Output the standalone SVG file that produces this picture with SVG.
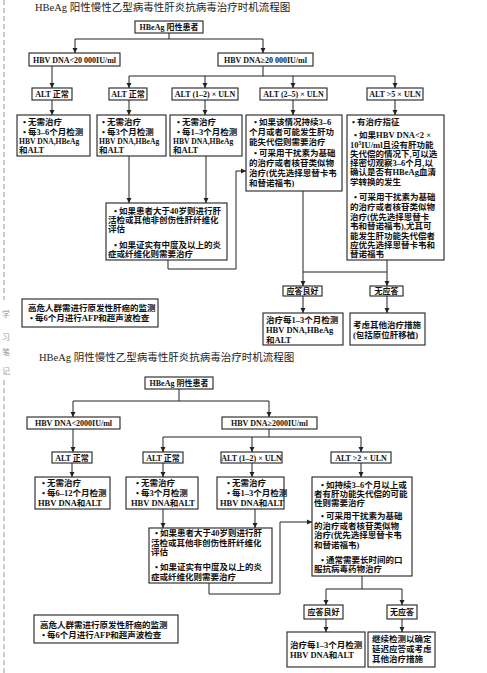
<svg xmlns="http://www.w3.org/2000/svg" width="487" height="673" viewBox="0 0 487 673">
<defs>
<marker id="ah" markerWidth="6" markerHeight="6" refX="5" refY="3" orient="auto" markerUnits="userSpaceOnUse">
<path d="M0,0.5 L5,3 L0,5.5 Z" fill="#222"/>
</marker>
<style>
.bg{fill:#fff}
.box{fill:#fff;stroke:#222;stroke-width:1.1}
.t{font-family:"Liberation Serif","Noto Sans CJK SC",serif;font-size:8.5px;font-weight:bold;fill:#111}
.s{font-size:7.6px}
.l{font-family:"Liberation Serif","Noto Sans CJK SC",serif;font-size:8px;font-weight:bold;fill:#111;text-anchor:middle}
.title{font-family:"Liberation Serif","Noto Sans CJK SC",serif;font-size:10.5px;fill:#222}
.c{fill:none;stroke:#222;stroke-width:1}
.a{marker-end:url(#ah)}
.m{font-family:"Noto Sans CJK SC",sans-serif;font-size:8px;fill:#999;text-anchor:middle}
.dash{stroke:#999;stroke-width:1;stroke-dasharray:5 3}
</style>
</defs>
<rect class="bg" x="0" y="0" width="487" height="673"/>

<g id="margin">
<line class="dash" x1="4" y1="0" x2="4" y2="300"/>
<line class="dash" x1="4" y1="380" x2="4" y2="673"/>
<text class="m" x="6" y="317">学</text>
<text class="m" x="6" y="340">习</text>
<text class="m" x="6" y="355">笔</text>
<text class="m" x="6" y="374">记</text>
</g>

<text class="title" x="35" y="11">HBeAg 阳性慢性乙型病毒性肝炎抗病毒治疗时机流程图</text>
<text class="title" x="39" y="361">HBeAg 阴性慢性乙型病毒性肝炎抗病毒治疗时机流程图</text>

<g id="connectors">
<path class="c" d="M169,33 V39 M75,39 H263"/>
<path class="c a" d="M75,39 V53"/>
<path class="c a" d="M263,39 V53"/>
<path class="c a" d="M52,66 V88"/>
<path class="c" d="M263,66 V76 M129,76 H395"/>
<path class="c a" d="M129,76 V88"/>
<path class="c a" d="M205,76 V88"/>
<path class="c a" d="M293,76 V88"/>
<path class="c a" d="M395,76 V88"/>
<path class="c a" d="M52,100 V115"/>
<path class="c a" d="M129,100 V115"/>
<path class="c a" d="M205,100 V115"/>
<path class="c a" d="M293,100 V115"/>
<path class="c a" d="M395,100 V115"/>
<path class="c a" d="M129,156 V203"/>
<path class="c a" d="M206,156 V203"/>
<path class="c a" d="M168,260 V269 H236 V171 H246"/>
<path class="c" d="M303,191 V272 M387,260 V272 M303,272 H387"/>
<path class="c a" d="M303,272 V286"/>
<path class="c a" d="M387,272 V286"/>
<path class="c a" d="M303,296 V313"/>
<path class="c a" d="M387,296 V313"/>

<path class="c" d="M179,389 V401 M73,401 H269"/>
<path class="c a" d="M73,401 V417"/>
<path class="c a" d="M269,401 V417"/>
<path class="c a" d="M73,429 V452"/>
<path class="c" d="M269,429 V437 M163,437 H361"/>
<path class="c a" d="M163,437 V452"/>
<path class="c a" d="M252,437 V452"/>
<path class="c a" d="M361,437 V452"/>
<path class="c a" d="M72,463 V477"/>
<path class="c a" d="M163,463 V477"/>
<path class="c a" d="M252,463 V477"/>
<path class="c a" d="M361,463 V477"/>
<path class="c a" d="M163,509 V528"/>
<path class="c a" d="M255,509 V528"/>
<path class="c a" d="M209,583 V594 H280 V522 H312"/>
<path class="c" d="M362,576 V589 M326,589 H402"/>
<path class="c a" d="M326,589 V605"/>
<path class="c a" d="M402,589 V605"/>
<path class="c a" d="M326,619 V632"/>
<path class="c a" d="M402,619 V632"/>
</g>

<!-- Top section -->
<g id="p_root"><rect class="box" x="135" y="21" width="68" height="12"/><text class="l" x="169" y="30">HBeAg 阳性患者</text></g>
<g id="p_dna_lo"><rect class="box" x="29" y="53" width="91" height="13"/><text class="l" x="74.5" y="62.5">HBV DNA&lt;20 000IU/ml</text></g>
<g id="p_dna_hi"><rect class="box" x="218" y="53" width="95" height="13"/><text class="l" x="265.5" y="62.5">HBV DNA≥20 000IU/ml</text></g>
<g id="p_alt1"><rect class="box" x="32" y="88" width="40" height="12"/><text class="l" x="52" y="97">ALT 正常</text></g>
<g id="p_alt2"><rect class="box" x="109" y="88" width="38" height="12"/><text class="l" x="128" y="97">ALT 正常</text></g>
<g id="p_alt3"><rect class="box" x="172" y="88" width="66" height="12"/><text class="l" x="205" y="97">ALT (1–2) × ULN</text></g>
<g id="p_alt4"><rect class="box" x="260" y="88" width="67" height="12"/><text class="l" x="293.5" y="97">ALT (2–5) × ULN</text></g>
<g id="p_alt5"><rect class="box" x="367" y="88" width="56" height="12"/><text class="l" x="395" y="97">ALT &gt;5 × ULN</text></g>

<g id="p_c1"><rect class="box" x="17" y="115" width="73" height="41"/>
<text class="t"><tspan x="23" y="125">• 无需治疗</tspan><tspan x="23" y="134.5">• 每3–6个月检测</tspan><tspan class="s" x="19" y="144">HBV DNA,HBeAg</tspan><tspan x="19" y="153">和ALT</tspan></text></g>
<g id="p_c2"><rect class="box" x="97" y="115" width="69" height="41"/>
<text class="t"><tspan x="102" y="125">• 无需治疗</tspan><tspan x="102" y="134.5">• 每3个月检测</tspan><tspan class="s" x="99" y="144">HBV DNA,HBeAg</tspan><tspan x="99" y="153">和ALT</tspan></text></g>
<g id="p_c3"><rect class="box" x="170" y="115" width="72" height="41"/>
<text class="t"><tspan x="177" y="125">• 无需治疗</tspan><tspan x="177" y="134.5">• 每1–3个月检测</tspan><tspan class="s" x="173" y="144">HBV DNA,HBeAg</tspan><tspan x="173" y="153">和ALT</tspan></text></g>
<g id="p_c4"><rect class="box" x="246" y="115" width="96" height="76"/>
<text class="t"><tspan x="254" y="125">• 如果该情况持续3–6</tspan><tspan x="249" y="135">个月或者可能发生肝功</tspan><tspan x="249" y="145">能失代偿则需要治疗</tspan><tspan x="254" y="156">• 可采用干扰素为基础</tspan><tspan x="249" y="166">的治疗或者核苷类似物</tspan><tspan x="249" y="176">治疗(优先选择恩替卡韦</tspan><tspan x="249" y="186">和替诺福韦)</tspan></text></g>
<g id="p_c5"><rect class="box" x="347" y="115" width="97" height="145"/>
<text class="t"><tspan x="352" y="125">• 有治疗指征</tspan><tspan x="354" y="138">• 如果HBV DNA&lt;2 ×</tspan><tspan x="350" y="148">10<tspan font-size="5.5" dy="-3.5">5</tspan><tspan dy="3.5">IU/ml且没有肝功能</tspan></tspan><tspan x="350" y="157">失代偿的情况下,可以选</tspan><tspan x="350" y="166">择密切观察3–6个月,以</tspan><tspan x="350" y="175">确认是否有HBeAg血清</tspan><tspan x="350" y="185">学转换的发生</tspan><tspan x="354" y="200">• 可采用干扰素为基础</tspan><tspan x="350" y="210">的治疗或者核苷类似物</tspan><tspan x="350" y="220">治疗(优先选择恩替卡</tspan><tspan x="350" y="229">韦和替诺福韦),尤其可</tspan><tspan x="350" y="239">能发生肝功能失代偿者</tspan><tspan x="350" y="248">应优先选择恩替卡韦和</tspan><tspan x="350" y="257">替诺福韦</tspan></text></g>
<g id="p_mid"><rect class="box" x="106" y="203" width="121" height="57"/>
<text class="t"><tspan x="114" y="214">• 如果患者大于40岁则进行肝</tspan><tspan x="108" y="223">活检或其他非创伤性肝纤维化</tspan><tspan x="108" y="232">评估</tspan><tspan x="114" y="248">• 如果证实有中度及以上的炎</tspan><tspan x="108" y="257">症或纤维化则需要治疗</tspan></text></g>
<g id="p_resp_good"><rect class="box" x="283" y="286" width="39" height="10"/><text class="l" x="302.5" y="294">应答良好</text></g>
<g id="p_resp_none"><rect class="box" x="370" y="286" width="33" height="10"/><text class="l" x="386.5" y="294">无应答</text></g>
<g id="p_treat"><rect class="box" x="263" y="313" width="80" height="32"/>
<text class="t"><tspan x="266" y="323">治疗每1–3个月检测</tspan><tspan x="266" y="333">HBV DNA,HBeAg</tspan><tspan x="266" y="343">和ALT</tspan></text></g>
<g id="p_other"><rect class="box" x="350" y="313" width="75" height="32"/>
<text class="t"><tspan x="353" y="328">考虑其他治疗措施</tspan><tspan x="353" y="338">(包括原位肝移植)</tspan></text></g>
<g id="p_hcc"><rect class="box" x="22" y="299" width="136" height="28"/>
<text class="t"><tspan x="28" y="311">高危人群需进行原发性肝癌的监测</tspan><tspan x="30" y="321">• 每6个月进行AFP和超声波检查</tspan></text></g>

<!-- Bottom section -->
<g id="n_root"><rect class="box" x="145" y="377" width="68" height="12"/><text class="l" x="179" y="386">HBeAg 阴性患者</text></g>
<g id="n_dna_lo"><rect class="box" x="27" y="417" width="93" height="12"/><text class="l" x="73.5" y="426">HBV DNA&lt;2000IU/ml</text></g>
<g id="n_dna_hi"><rect class="box" x="222" y="417" width="95" height="12"/><text class="l" x="269.5" y="426">HBV DNA≥2000IU/ml</text></g>
<g id="n_alt1"><rect class="box" x="52" y="452" width="40" height="11"/><text class="l" x="72" y="460.5">ALT 正常</text></g>
<g id="n_alt2"><rect class="box" x="143" y="452" width="40" height="11"/><text class="l" x="163" y="460.5">ALT 正常</text></g>
<g id="n_alt3"><rect class="box" x="221" y="452" width="61" height="11"/><text class="l" x="251.5" y="460.5">ALT (1–2) × ULN</text></g>
<g id="n_alt4"><rect class="box" x="331" y="452" width="60" height="11"/><text class="l" x="361" y="460.5">ALT &gt;2 × ULN</text></g>
<g id="n_c1"><rect class="box" x="35" y="477" width="75" height="32"/>
<text class="t"><tspan x="42" y="486">• 无需治疗</tspan><tspan x="42" y="496">• 每6–12个月检测</tspan><tspan x="38" y="506">HBV DNA和ALT</tspan></text></g>
<g id="n_c2"><rect class="box" x="126" y="477" width="72" height="32"/>
<text class="t"><tspan x="136" y="486">• 无需治疗</tspan><tspan x="136" y="496">• 每3个月检测</tspan><tspan x="131" y="506">HBV DNA和ALT</tspan></text></g>
<g id="n_c3"><rect class="box" x="217" y="477" width="67" height="32"/>
<text class="t"><tspan x="227" y="486">• 无需治疗</tspan><tspan x="227" y="496">• 每1–3个月检测</tspan><tspan x="220" y="506">HBV DNA和ALT</tspan></text></g>
<g id="n_c4"><rect class="box" x="312" y="477" width="100" height="99"/>
<text class="t"><tspan x="321" y="488">• 如持续3–6个月以上或</tspan><tspan x="314" y="497">者有肝功能失代偿的可能</tspan><tspan x="314" y="506">性则需要治疗</tspan><tspan x="321" y="519">• 可采用干扰素为基础</tspan><tspan x="314" y="529">的治疗或者核苷类似物</tspan><tspan x="314" y="538">治疗(优先选择恩替卡韦</tspan><tspan x="314" y="548">和替诺福韦)</tspan><tspan x="321" y="563">• 通常需要长时间的口</tspan><tspan x="314" y="572">服抗病毒药物治疗</tspan></text></g>
<g id="n_mid"><rect class="box" x="149" y="528" width="123" height="55"/>
<text class="t"><tspan x="155" y="536">• 如果患者大于40岁则进行肝</tspan><tspan x="151" y="546">活检或其他非创伤性肝纤维化</tspan><tspan x="151" y="555">评估</tspan><tspan x="155" y="570">• 如果证实有中度及以上的炎</tspan><tspan x="151" y="580">症或纤维化则需要治疗</tspan></text></g>
<g id="n_resp_good"><rect class="box" x="304" y="605" width="39" height="14"/><text class="l" x="323.5" y="615">应答良好</text></g>
<g id="n_resp_none"><rect class="box" x="387" y="605" width="30" height="14"/><text class="l" x="402" y="615">无应答</text></g>
<g id="n_treat"><rect class="box" x="287" y="632" width="78" height="35"/>
<text class="t"><tspan x="290" y="648">治疗每1–3个月检测</tspan><tspan x="290" y="658">HBV DNA和ALT</tspan></text></g>
<g id="n_other"><rect class="box" x="368" y="632" width="67" height="35"/>
<text class="t"><tspan x="372" y="642">继续检测以确定</tspan><tspan x="372" y="652">延迟应答或考虑</tspan><tspan x="372" y="662">其他治疗措施</tspan></text></g>
<g id="n_hcc"><rect class="box" x="34" y="615" width="144" height="28"/>
<text class="t"><tspan x="40" y="628">高危人群需进行原发性肝癌的监测</tspan><tspan x="42" y="638">• 每6个月进行AFP和超声波检查</tspan></text></g>
</svg>
